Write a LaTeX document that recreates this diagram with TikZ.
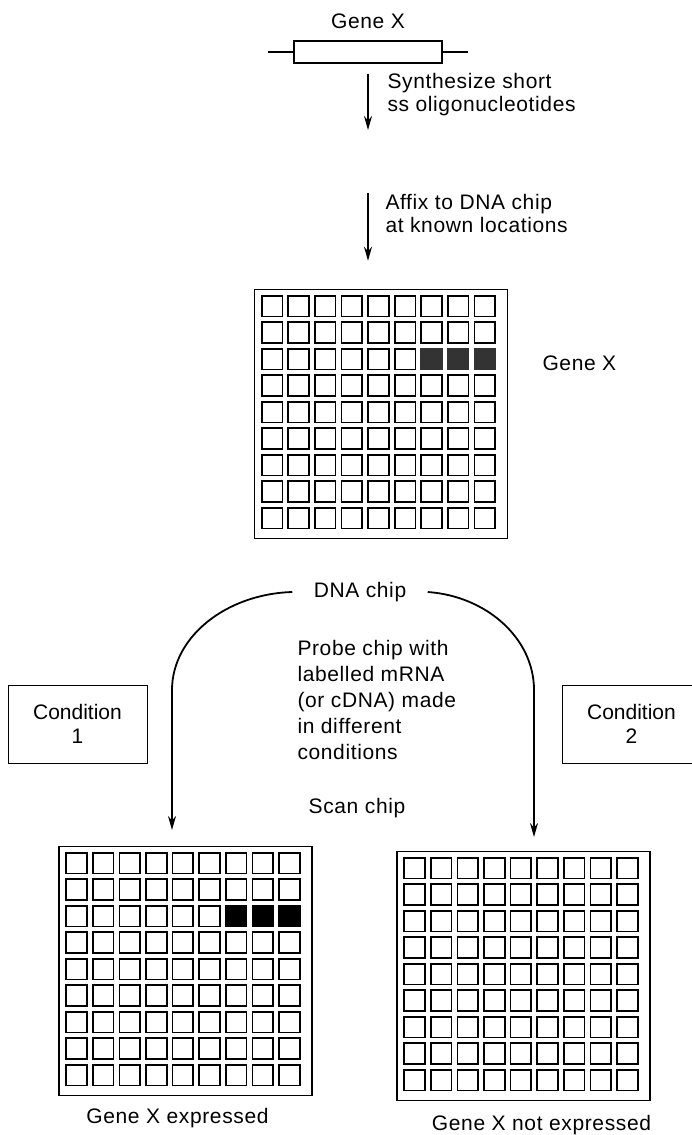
\documentclass[tikz,border=0pt]{standalone}
\usepackage{fontspec}
\setmainfont{Liberation Sans}
\newfontfamily\scanfont[LetterSpace=3]{Liberation Sans}
\usepackage{tikz}
\usetikzlibrary{arrows.meta}

% 9x9 spots of a chip, drawn from its north west corner
\newcommand{\chipcells}[1]{%
  \begin{scope}[shift={(#1.north west)}]
    \foreach \i in {0,...,8}
      \foreach \j in {0,...,8}
        \draw[cell] (8+\i*26.6, 7+\j*26.5) rectangle ++(20.7, 20.7);
  \end{scope}}
% the three spots of gene X (row 3, columns 7-9)
\newcommand{\chipspots}[2]{%
  \begin{scope}[shift={(#1.north west)}]
    \foreach \i in {6,7,8}
      \filldraw[spot, fill=#2, draw=#2] (8+\i*26.6, 7+2*26.5) rectangle ++(20.7, 20.7);
  \end{scope}}

\begin{document}
\begin{tikzpicture}[x=1pt, y=-1pt, line width=1pt,
    txt/.style={font=\scanfont\fontsize{21}{23}\selectfont, inner sep=0pt, align=left},
    chip/.style={draw, line width=1.6pt, minimum width=253pt, minimum height=249pt, inner sep=0pt},
    cell/.style={line width=1.7pt},
    spot/.style={line width=1.7pt},
    condbox/.style={draw, line width=0.9pt, minimum width=139pt, minimum height=78pt,
      align=center, font=\fontsize{21}{24}\selectfont},
    arr/.style={line width=1.8pt, -{Stealth[length=14pt, width=8pt]}}]
    \useasboundingbox (0,0) rectangle (691,1135);

    % gene X at the top
    \node[txt] (genetitle) at (368,21) {Gene X};
    \node[draw, line width=1.3pt, minimum width=148pt, minimum height=22pt, inner sep=0pt] (gene) at (368,52) {};
    \draw[line width=1.2pt] (gene.west) -- ++(-25,0);
    \draw[line width=1.2pt] (gene.east) -- ++(25,0);

    % steps down to the chip
    \coordinate (oligo) at (368,160);
    \draw[arr, shorten <=10pt, shorten >=30pt] (gene.south) -- (oligo);
    \node[txt, anchor=west] (synth) at (387,95) {Synthesize short\\ss oligonucleotides};
    \node[chip] (chipA) at (381,414) {};
    \draw[arr, shorten <=33pt, shorten >=28pt] (oligo) -- (oligo |- chipA.north);
    \node[txt, anchor=west] (affix) at (385,213) {Affix to DNA chip\\at known locations};

    % DNA chip
    \chipcells{chipA}
    \chipspots{chipA}{black!80}
    \node[txt, anchor=west] (genexlab) at (542,363) {Gene X};
    \node[txt] (dna) at (360,592) {DNA chip};

    % probing in two conditions
    \node[txt, anchor=west, font=\scanfont\fontsize{21}{26}\selectfont] (probe) at (297,700)
      {Probe chip with\\labelled mRNA\\(or cDNA) made\\in different\\conditions};
    \node[condbox] (cond1) at (77.5,724) {Condition\\1};
    \node[condbox] (cond2) at (631.5,724) {Condition\\2};
    \node[txt] (scan) at (357,808) {Scan chip};

    \coordinate (inB) at (172,830);
    \coordinate (inC) at (534,837);
    \draw[arr] ([xshift=-21pt]dna.west) .. controls (226,594) and (172,637) .. (172,690) -- (inB);
    \draw[arr] ([xshift=21pt]dna.east) .. controls (486,596) and (534,638) .. (534,690) -- (inC);

    % scanned chips
    \node[chip] (chipB) at (185.5,971) {};
    \chipcells{chipB}
    \chipspots{chipB}{black}
    \node[txt] (expr) at (177.5,1118) {Gene X expressed};

    \node[chip] (chipC) at (523.5,976) {};
    \chipcells{chipC}
    \node[txt] (noexpr) at (541.5,1125) {Gene X not expressed};

\end{tikzpicture}
\end{document}
